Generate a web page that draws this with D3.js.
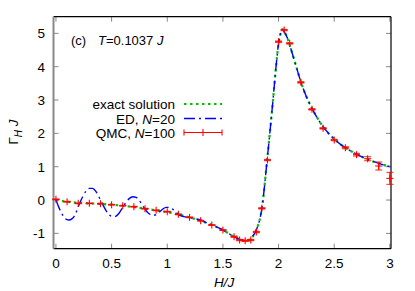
<!DOCTYPE html>
<html><head><meta charset="utf-8">
<script src="https://cdn.jsdelivr.net/npm/d3@7"></script>
<style>
html,body{margin:0;padding:0;background:#fff;}
svg{display:block;font-family:"Liberation Sans",Arial,sans-serif;}
</style></head><body>
<svg id="c" width="415" height="291"></svg>
<script>
// ---- data ----
const xTicks = [0, 0.5, 1, 1.5, 2, 2.5, 3];
const xTickLabels = ["0", "0.5", "1", "1.5", "2", "2.5", "3"];
const yTicks = [-1, 0, 1, 2, 3, 4, 5];
const yTickLabels = ["-1", "0", "1", "2", "3", "4", "5"];

const exactH = [0,0.1,0.2,0.3,0.4,0.5,0.6,0.7,0.8,0.9,1.0,1.1,1.2,1.3,1.4,1.5,
  1.55,1.6,1.65,1.7,1.73,1.76,1.8,1.85,1.9,1.95,1.98,2.0,2.02,2.035,2.05,2.08,2.1,2.15,2.2,2.25,2.3,2.4,2.5,2.6,2.7,2.8,2.9,3.0];
const exactG = [0.0,-0.05,-0.08,-0.1,-0.12,-0.14,-0.17,-0.21,-0.26,-0.31,-0.36,-0.43,-0.52,-0.62,-0.75,-0.9,
  -1.0,-1.1,-1.18,-1.22,-1.21,-1.12,-0.9,-0.25,1.3,3.0,4.1,4.7,5.02,5.12,5.05,4.85,4.65,4.1,3.55,3.1,2.75,2.2,1.83,1.57,1.38,1.22,1.1,1.0];

const edH = [0,0.03,0.06,0.09,0.12,0.15,0.18,0.21,0.24,0.27,0.30,0.33,0.36,0.39,0.42,0.45,0.48,0.51,0.54,0.57,
  0.60,0.63,0.66,0.69,0.72,0.75,0.78,0.81,0.84,0.87,0.90,0.93,0.96,0.99,1.02,1.05,1.08,1.11,
  1.15,1.2,1.25,1.3,1.35,1.4,1.5,
  1.55,1.6,1.65,1.7,1.73,1.76,1.8,1.85,1.9,1.95,1.98,2.0,2.02,2.035,2.05,2.08,2.1,2.15,2.2,2.25,2.3,2.4,2.5,2.6,2.7,2.8,2.9,3.0];
const edG = [0.0,-0.25,-0.45,-0.57,-0.6,-0.55,-0.38,-0.12,0.1,0.27,0.35,0.35,0.25,0.07,-0.13,-0.32,-0.45,-0.5,-0.48,-0.38,
  -0.22,-0.07,0.05,0.1,0.08,-0.02,-0.17,-0.32,-0.42,-0.46,-0.44,-0.36,-0.27,-0.22,-0.22,-0.28,-0.37,-0.45,
  -0.5,-0.53,-0.56,-0.6,-0.68,-0.75,-0.9,
  -1.0,-1.1,-1.18,-1.22,-1.21,-1.12,-0.9,-0.25,1.3,3.0,4.1,4.7,5.02,5.12,5.05,4.85,4.65,4.1,3.55,3.1,2.75,2.2,1.83,1.57,1.38,1.22,1.1,1.0];

const qmcH = [0,0.1,0.2,0.3,0.4,0.5,0.6,0.7,0.8,0.9,1.0,1.1,1.2,1.3,1.4,1.5,1.6,1.65,1.7,1.75,1.8,1.85,1.9,2.0,2.05,2.1,2.2,2.3,2.4,2.5,2.6,2.7,2.8,2.9,3.0];
const qmcG = [0.02,-0.05,-0.1,-0.1,-0.11,-0.14,-0.17,-0.2,-0.26,-0.31,-0.35,-0.43,-0.52,-0.62,-0.75,-0.9,-1.1,-1.2,-1.22,-1.2,-0.96,-0.25,1.2,4.75,5.1,4.7,3.53,2.72,2.15,1.8,1.57,1.36,1.24,1.02,0.65];
const qmcErr = [0.01,0.01,0.01,0.01,0.01,0.01,0.01,0.01,0.01,0.01,0.01,0.01,0.01,0.01,0.01,0.01,0.02,0.02,0.02,0.02,0.02,0.02,0.02,0.02,0.02,0.02,0.02,0.02,0.02,0.02,0.03,0.04,0.06,0.12,0.18];

const legendLabels = ["exact solution", "ED, N=20", "QMC, N=100"];

// ---- drawing ----
const svg = d3.select("#c");
const L = 53.5, R = 391, T = 16.7, B = 248.7;
const x = d3.scaleLinear().domain([-0.022, 3.01]).range([L, R]);
const y = d3.scaleLinear().domain([-1.46, 5.5]).range([B, T]);
const FS = 13.5;

// ticks (inward, mirrored)
const tickCol = "#888";
const g = svg.append("g");
xTicks.forEach(v => {
  g.append("line").attr("x1", x(v)).attr("x2", x(v)).attr("y1", B).attr("y2", B - 5).attr("stroke", tickCol).attr("stroke-width", 1);
  g.append("line").attr("x1", x(v)).attr("x2", x(v)).attr("y1", T).attr("y2", T + 5).attr("stroke", tickCol).attr("stroke-width", 1);
});
yTicks.forEach(v => {
  g.append("line").attr("x1", L).attr("x2", L + 5).attr("y1", y(v)).attr("y2", y(v)).attr("stroke", tickCol).attr("stroke-width", 1);
  g.append("line").attr("x1", R).attr("x2", R - 5).attr("y1", y(v)).attr("y2", y(v)).attr("stroke", tickCol).attr("stroke-width", 1);
});
xTicks.forEach((v, i) => {
  svg.append("text").attr("x", x(v)).attr("y", 268).attr("text-anchor", "middle")
    .attr("font-size", FS).attr("fill", "#000").text(xTickLabels[i]);
});
yTicks.forEach((v, i) => {
  svg.append("text").attr("x", 45).attr("y", y(v) + 5).attr("text-anchor", "end")
    .attr("font-size", FS).attr("fill", "#000").text(yTickLabels[i]);
});

// border
svg.append("line").attr("x1", L).attr("x2", R).attr("y1", T).attr("y2", T).attr("stroke", "#000").attr("stroke-width", 1.2);
svg.append("line").attr("x1", L).attr("x2", R).attr("y1", B).attr("y2", B).attr("stroke", "#000").attr("stroke-width", 1.2);
svg.append("line").attr("x1", R).attr("x2", R).attr("y1", T).attr("y2", B).attr("stroke", "#000").attr("stroke-width", 1.2);
svg.append("line").attr("x1", L).attr("x2", L).attr("y1", T).attr("y2", B).attr("stroke", "#888").attr("stroke-width", 2);

// axis titles
svg.append("text").attr("x", 224).attr("y", 287).attr("text-anchor", "middle")
  .attr("font-size", FS).attr("font-style", "italic").text("H/J");
const yl = svg.append("text").attr("transform", "translate(18,132) rotate(-90)")
  .attr("text-anchor", "middle").attr("font-size", FS);
yl.append("tspan").text("Γ");
yl.append("tspan").attr("font-size", 10).attr("font-style", "italic").attr("dy", 4).text("H");
yl.append("tspan").attr("dy", -4).text(" ");
yl.append("tspan").attr("font-style", "italic").text("J");

// annotation
svg.append("text").attr("x", 71).attr("y", 45).attr("font-size", 13).text("(c)");
const an = svg.append("text").attr("x", 98).attr("y", 45).attr("font-size", 13);
an.append("tspan").attr("font-style", "italic").text("T");
an.append("tspan").text("=0.1037 ");
an.append("tspan").attr("font-style", "italic").text("J");

// lines
const line = d3.line().x(d => x(d[0])).y(d => y(d[1])).curve(d3.curveMonotoneX);
svg.append("clipPath").attr("id", "clp").append("rect")
  .attr("x", L).attr("y", T).attr("width", R - L).attr("height", B - T);
const plot = svg.append("g").attr("clip-path", "url(#clp)");

const GREEN = "#00c000", BLUE = "#0000ff", RED = "#ff0000";
plot.append("path").attr("d", line(exactH.map((h, i) => [h, exactG[i]])))
  .attr("fill", "none").attr("stroke", GREEN).attr("stroke-width", 2.2).attr("stroke-dasharray", "2.5,3.5");
plot.append("path").attr("d", line(edH.map((h, i) => [h, edG[i]])))
  .attr("fill", "none").attr("stroke", BLUE).attr("stroke-width", 1.4).attr("stroke-dasharray", "11,4,2,4");

// QMC points with error bars
const ps = 3.5, cap = 3.5;
qmcH.forEach((h, i) => {
  const cx = x(h), cy = y(qmcG[i]);
  const y1 = y(qmcG[i] + qmcErr[i]), y2 = y(qmcG[i] - qmcErr[i]);
  const gg = svg.append("g").attr("stroke", RED).attr("stroke-width", 1.1);
  gg.append("line").attr("x1", cx).attr("x2", cx).attr("y1", y1).attr("y2", y2);
  gg.append("line").attr("x1", cx - cap).attr("x2", cx + cap).attr("y1", y1).attr("y2", y1).attr("stroke-opacity", 0.8);
  gg.append("line").attr("x1", cx - cap).attr("x2", cx + cap).attr("y1", y2).attr("y2", y2).attr("stroke-opacity", 0.8);
  gg.append("line").attr("x1", cx - ps).attr("x2", cx + ps).attr("y1", cy).attr("y2", cy);
  gg.append("line").attr("x1", cx).attr("x2", cx).attr("y1", cy - ps).attr("y2", cy + ps);
});

// legend
const lgX = 175, lx1 = 184, lx2 = 222, rows = [104, 118.5, 132.5];
svg.append("text").attr("x", lgX).attr("y", rows[0] + 5).attr("text-anchor", "end").attr("font-size", FS).text(legendLabels[0]);
const lt1 = svg.append("text").attr("x", lgX).attr("y", rows[1] + 5).attr("text-anchor", "end").attr("font-size", FS);
lt1.append("tspan").text("ED, ");
lt1.append("tspan").attr("font-style", "italic").text("N");
lt1.append("tspan").text("=20");
const lt2 = svg.append("text").attr("x", lgX).attr("y", rows[2] + 5).attr("text-anchor", "end").attr("font-size", FS);
lt2.append("tspan").text("QMC, ");
lt2.append("tspan").attr("font-style", "italic").text("N");
lt2.append("tspan").text("=100");

svg.append("line").attr("x1", lx1).attr("x2", lx2).attr("y1", rows[0]).attr("y2", rows[0])
  .attr("stroke", GREEN).attr("stroke-width", 2.2).attr("stroke-dasharray", "2.5,3.5");
svg.append("line").attr("x1", lx1).attr("x2", lx2).attr("y1", rows[1]).attr("y2", rows[1])
  .attr("stroke", BLUE).attr("stroke-width", 1.4).attr("stroke-dasharray", "11,4,2,4");
const lg = svg.append("g").attr("stroke", RED).attr("stroke-width", 1.1);
lg.append("line").attr("x1", lx1).attr("x2", lx2).attr("y1", rows[2]).attr("y2", rows[2]);
lg.append("line").attr("x1", lx1).attr("x2", lx1).attr("y1", rows[2] - 3).attr("y2", rows[2] + 3);
lg.append("line").attr("x1", lx2).attr("x2", lx2).attr("y1", rows[2] - 3).attr("y2", rows[2] + 3);
lg.append("line").attr("x1", (lx1 + lx2) / 2).attr("x2", (lx1 + lx2) / 2).attr("y1", rows[2] - ps).attr("y2", rows[2] + ps);
</script>
</body></html>
